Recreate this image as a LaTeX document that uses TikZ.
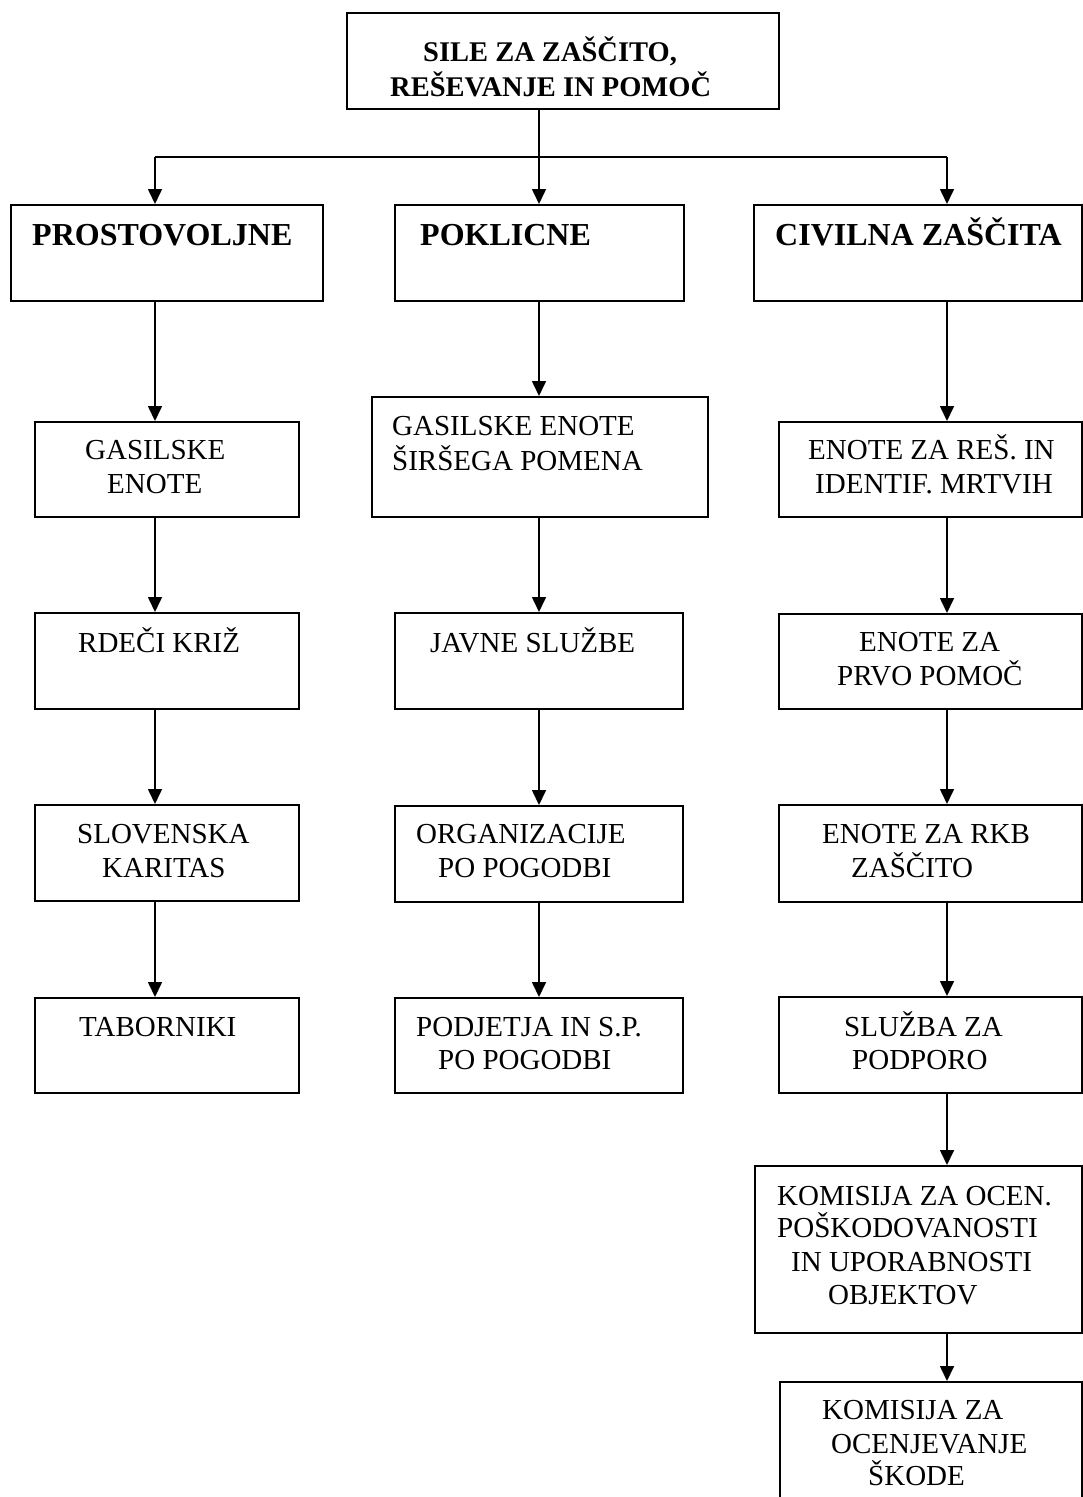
\documentclass[tikz,border=0pt]{standalone}
\usepackage{fontspec}
\setmainfont{Liberation Serif}
\usetikzlibrary{arrows.meta,fit}
\begin{document}
\begin{tikzpicture}[x=1pt,y=-1pt,
  box/.style={draw, line width=2pt, inner sep=0pt},
  link/.style={line width=1.6pt},
  arr/.style={line width=1.6pt, -{Triangle[width=14pt,length=15pt]}},
  ln/.style={anchor=base west, inner sep=0pt, font=\fontsize{29}{34}\selectfont},
  hd/.style={anchor=base west, inner sep=0pt, font=\fontsize{32}{38}\selectfont\bfseries},
  ttl/.style={anchor=base west, inner sep=0pt, font=\fontsize{28.5}{34}\selectfont\bfseries}]
\useasboundingbox (0,0) rectangle (1083,1497);
\clip (0,0) rectangle (1083,1497);
\fill[white] (0,0) rectangle (1083,1497);

% boxes
\node[box, fit={(347,13) (779,109)}] (top) {};
\node[box, fit={(11,205) (323,301)}] (pro) {};
\node[box, fit={(395,205) (684,301)}] (pok) {};
\node[box, fit={(754,205) (1082,301)}] (civ) {};
\node[box, fit={(35,422) (299,517)}] (L1) {};
\node[box, fit={(35,613) (299,709)}] (L2) {};
\node[box, fit={(35,805) (299,901)}] (L3) {};
\node[box, fit={(35,998) (299,1093)}] (L4) {};
\node[box, fit={(372,397) (708,517)}] (M1) {};
\node[box, fit={(395,613) (683,709)}] (M2) {};
\node[box, fit={(395,806) (683,902)}] (M3) {};
\node[box, fit={(395,998) (683,1093)}] (M4) {};
\node[box, fit={(779,422) (1082,517)}] (R1) {};
\node[box, fit={(779,614) (1082,709)}] (R2) {};
\node[box, fit={(779,805) (1082,902)}] (R3) {};
\node[box, fit={(779,997) (1082,1093)}] (R4) {};
\node[box, fit={(755,1166) (1082,1333)}] (R5) {};
\node[box, fit={(780,1382) (1082,1530)}] (R6) {};

% connectors
\coordinate (cL) at (155,157);
\coordinate (cM) at (539,157);
\coordinate (cR) at (947,157);
\draw[link] (top.south -| cM) -- (cM);
\draw[link] (cL) -- (cR);
\draw[arr] (cL) -- (pro.north -| cL);
\draw[arr] (cM) -- (pok.north -| cM);
\draw[arr] (cR) -- (civ.north -| cR);
\draw[arr] (pro.south -| cL) -- (L1.north -| cL);
\draw[arr] (L1.south -| cL) -- (L2.north -| cL);
\draw[arr] (L2.south -| cL) -- (L3.north -| cL);
\draw[arr] (L3.south -| cL) -- (L4.north -| cL);
\draw[arr] (pok.south -| cM) -- (M1.north -| cM);
\draw[arr] (M1.south -| cM) -- (M2.north -| cM);
\draw[arr] (M2.south -| cM) -- (M3.north -| cM);
\draw[arr] (M3.south -| cM) -- (M4.north -| cM);
\draw[arr] (civ.south -| cR) -- (R1.north -| cR);
\draw[arr] (R1.south -| cR) -- (R2.north -| cR);
\draw[arr] (R2.south -| cR) -- (R3.north -| cR);
\draw[arr] (R3.south -| cR) -- (R4.north -| cR);
\draw[arr] (R4.south -| cR) -- (R5.north -| cR);
\draw[arr] (R5.south -| cR) -- (R6.north -| cR);

% texts
\node[ttl] (t01) at (423,61) {SILE ZA ZAŠČITO,};
\node[ttl] (t02) at (390,96) {REŠEVANJE IN POMOČ};
\node[hd] (t03) at (32,245) {PROSTOVOLJNE};
\node[hd] (t04) at (420,245) {POKLICNE};
\node[hd] (t05) at (775,245) {CIVILNA ZAŠČITA};

\node[ln] (t06) at (85,459) {GASILSKE};
\node[ln] (t07) at (107,493) {ENOTE};
\node[ln] (t08) at (78,652) {RDEČI KRIŽ};
\node[ln] (t09) at (77,843) {SLOVENSKA};
\node[ln] (t10) at (102,877) {KARITAS};
\node[ln] (t11) at (79,1036) {TABORNIKI};

\node[ln] (t12) at (392,435) {GASILSKE ENOTE};
\node[ln] (t13) at (392,470) {ŠIRŠEGA POMENA};
\node[ln] (t14) at (430,652) {JAVNE SLUŽBE};
\node[ln] (t15) at (416,843) {ORGANIZACIJE};
\node[ln] (t16) at (438,877) {PO POGODBI};
\node[ln] (t17) at (416,1036) {PODJETJA IN S.P.};
\node[ln] (t18) at (438,1069) {PO POGODBI};

\node[ln] (t19) at (808,459) {ENOTE ZA REŠ. IN};
\node[ln] (t20) at (815,493) {IDENTIF. MRTVIH};
\node[ln] (t21) at (859,651) {ENOTE ZA};
\node[ln] (t22) at (837,685) {PRVO POMOČ};
\node[ln] (t23) at (822,843) {ENOTE ZA RKB};
\node[ln] (t24) at (851,877) {ZAŠČITO};
\node[ln] (t25) at (844,1036) {SLUŽBA ZA};
\node[ln] (t26) at (852,1069) {PODPORO};
\node[ln] (t27) at (777,1205) {KOMISIJA ZA OCEN.};
\node[ln] (t28) at (777,1237) {POŠKODOVANOSTI};
\node[ln] (t29) at (791,1271) {IN UPORABNOSTI};
\node[ln] (t30) at (828,1304) {OBJEKTOV};
\node[ln] (t31) at (822,1419) {KOMISIJA ZA};
\node[ln] (t32) at (831,1453) {OCENJEVANJE};
\node[ln] (t33) at (868,1485) {ŠKODE};
\end{tikzpicture}
\end{document}
